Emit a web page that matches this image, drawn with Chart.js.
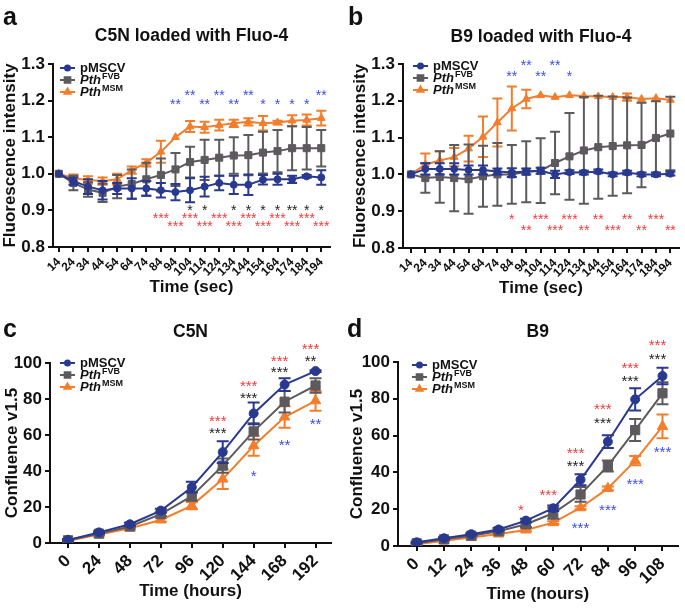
<!DOCTYPE html>
<html>
<head>
<meta charset="utf-8">
<script src="https://cdn.jsdelivr.net/npm/chart.js@4.4.1/dist/chart.umd.min.js"></script>
<style>
  html, body { margin: 0; padding: 0; background: #fff; }
  #fig { position: relative; width: 685px; height: 608px; overflow: hidden; }
  #fig canvas { position: absolute; }
</style>
</head>
<body>
<div id="fig">
  <canvas id="pa" width="342" height="305" style="left:0;top:0"></canvas>
  <canvas id="pb" width="343" height="305" style="left:342px;top:0"></canvas>
  <canvas id="pc" width="342" height="303" style="left:0;top:305px"></canvas>
  <canvas id="pd" width="343" height="303" style="left:342px;top:305px"></canvas>
</div>
<script>
// ---- data ----
var timeSec = [14, 24, 34, 44, 54, 64, 74, 84, 94, 104, 114, 124, 134, 144, 154, 164, 174, 184, 194];
var fluoTicks = [0.8, 0.9, 1.0, 1.1, 1.2, 1.3];

// a: C5N loaded with Fluo-4
var aMSCV    = [1.00, 0.98, 0.965, 0.955, 0.96, 0.96, 0.96, 0.955, 0.95, 0.955, 0.965, 0.975, 0.97, 0.97, 0.984, 0.985, 0.985, 0.993, 0.99];
var aMSCVErr = [0, 0.01, 0.02, 0.025, 0.015, 0.028, 0.02, 0.02, 0.022, 0.033, 0.027, 0.02, 0.025, 0.028, 0.013, 0.015, 0.01, 0.004, 0.02];
var aFVB     = [1.00, 0.975, 0.957, 0.948, 0.965, 0.972, 0.985, 0.997, 1.012, 1.032, 1.038, 1.044, 1.05, 1.051, 1.058, 1.062, 1.07, 1.07, 1.07];
var aFVBErr  = [0, 0.02, 0.02, 0.025, 0.032, 0.04, 0.045, 0.045, 0.045, 0.042, 0.055, 0.049, 0.05, 0.055, 0.057, 0.058, 0.06, 0.058, 0.05];
var aMSM     = [1.00, 0.988, 0.983, 0.98, 0.985, 1.01, 1.03, 1.06, 1.10, 1.129, 1.127, 1.133, 1.138, 1.142, 1.138, 1.14, 1.145, 1.147, 1.152];
var aMSMErr  = [0, 0.01, 0.01, 0.01, 0.015, 0.01, 0.01, 0.03, 0, 0.015, 0.015, 0.015, 0.01, 0.01, 0.02, 0.005, 0.015, 0.015, 0.02];

// b: B9 loaded with Fluo-4
var bMSCV    = [1.00, 1.015, 1.015, 1.015, 1.012, 1.012, 1.008, 1.005, 1.008, 1.01, 1.0, 1.006, 1.005, 1.008, 1.0, 1.005, 1.0, 1.0, 1.002];
var bMSCVErr = [0, 0.015, 0.015, 0.015, 0.012, 0.012, 0.008, 0.012, 0.008, 0.008, 0.01, 0.005, 0.005, 0.005, 0.005, 0.005, 0.005, 0.005, 0.005];
var bFVB     = [1.00, 0.99, 0.993, 0.99, 0.987, 0.995, 1.0, 1.0, 1.007, 1.01, 1.031, 1.049, 1.065, 1.074, 1.077, 1.079, 1.08, 1.099, 1.111];
var bFVBErr  = [0, 0.04, 0.07, 0.09, 0.094, 0.083, 0.085, 0.08, 0.083, 0.088, 0.085, 0.118, 0.145, 0.14, 0.135, 0.13, 0.115, 0.10, 0.10];
var bMSM     = [1.00, 1.027, 1.038, 1.047, 1.07, 1.102, 1.141, 1.179, 1.205, 1.215, 1.21, 1.215, 1.213, 1.212, 1.21, 1.21, 1.205, 1.207, 1.202];
var bMSMErr  = [0, 0.03, 0.025, 0.025, 0.035, 0.055, 0.065, 0.06, 0.025, 0, 0, 0, 0, 0, 0, 0.01, 0, 0, 0];

// c: C5N confluence
var hoursC   = [0, 24, 48, 72, 96, 120, 144, 168, 192];
var cMSCV    = [1.7, 5.9, 10.4, 18, 31, 50.5, 72, 88, 95.5];
var cMSCVErr = [0.5, 0.5, 0.8, 1, 3, 6, 6, 3.5, 0.5];
var cFVB     = [1.5, 5.2, 9.2, 16, 26, 43, 62, 78.5, 87.5];
var cFVBErr  = [0.3, 0.5, 0.7, 1, 2.5, 4, 4.5, 6, 4];
var cMSM     = [1.3, 4.7, 8.2, 12.8, 20.8, 35.5, 54, 70, 79];
var cMSMErr  = [0.3, 0.5, 0.8, 1, 2, 5.5, 5.5, 6, 5.5];

// d: B9 confluence
var hoursD   = [0, 12, 24, 36, 48, 60, 72, 84, 96, 108];
var dMSCV    = [2, 4.2, 6.4, 9, 13.8, 20.5, 36, 56.7, 79.7, 92.4];
var dMSCVErr = [0.5, 0.5, 0.5, 0.8, 1, 1.5, 3, 3.5, 6, 4.5];
var dFVB     = [1.5, 3.6, 5.6, 8, 11.8, 17.8, 28, 43.5, 63, 83];
var dFVBErr  = [0.3, 0.5, 0.5, 0.8, 1.5, 3, 4, 3, 6, 6];
var dMSM     = [1, 2.8, 4.6, 6.5, 8.7, 12.7, 20.8, 31.3, 46.4, 65];
var dMSMErr  = [0.2, 0.3, 0.4, 0.5, 0.7, 0.8, 0.8, 1, 2.5, 6.5];
var confTicks = [0, 20, 40, 60, 80, 100];

// significance marks: [x, y, text]
var aStarsBlue  = [[94, 1.199, '**'], [104, 1.224, '**'], [114, 1.199, '**'], [124, 1.224, '**'], [134, 1.199, '**'], [144, 1.224, '**'],
                   [154, 1.199, '*'], [164, 1.199, '*'], [174, 1.199, '*'], [184, 1.199, '*'], [194, 1.224, '**']];
var aStarsBlack = [[104, 0.909, '*'], [114, 0.909, '*'], [134, 0.909, '*'], [144, 0.909, '*'], [154, 0.909, '*'], [164, 0.909, '*'],
                   [174, 0.909, '**'], [184, 0.909, '*'], [194, 0.909, '*']];
var aStarsRed   = [[84, 0.888, '***'], [104, 0.888, '***'], [124, 0.888, '***'], [144, 0.888, '***'], [164, 0.888, '***'], [184, 0.888, '***'],
                   [94, 0.867, '***'], [114, 0.867, '***'], [134, 0.867, '***'], [154, 0.867, '***'], [174, 0.867, '***'], [194, 0.867, '***']];
var bStarsBlue  = [[84, 1.277, '**'], [94, 1.306, '**'], [104, 1.277, '**'], [114, 1.306, '**'], [124, 1.277, '*']];
var bStarsRed   = [[84, 0.886, '*'], [104, 0.886, '***'], [124, 0.886, '***'], [144, 0.886, '**'], [164, 0.886, '**'], [184, 0.886, '***'],
                   [94, 0.856, '**'], [114, 0.856, '***'], [134, 0.856, '**'], [154, 0.856, '***'], [174, 0.856, '**'], [194, 0.856, '**']];
var cStarsRed   = [[120, 70, '***'], [144, 89.4, '***'], [168, 103, '***'], [192, 110, '***']];
var cStarsBlack = [[120, 63, '***'], [144, 82.6, '***'], [168, 96.8, '***'], [192, 103, '**']];
var cStarsBlue  = [[144, 39, '*'], [168, 56.5, '**'], [192, 68, '**']];
var dStarsRed   = [[48, 21.7, '*'], [60, 29.5, '***'], [72, 52.7, '***'], [84, 76.6, '***'], [96, 98.9, '***'], [108, 111.4, '***']];
var dStarsBlack = [[72, 45.5, '***'], [84, 69, '***'], [96, 91.7, '***'], [108, 103.8, '***']];
var dStarsBlue  = [[72, 11.8, '***'], [84, 21.7, '***'], [96, 35.9, '***'], [108, 53, '***']];

var legendItems = [{ text: 'pMSCV' }, { text: 'Pth', sup: 'FVB' }, { text: 'Pth', sup: 'MSM' }];

// ---- styles ----
var FF = "'Liberation Sans', Arial, Helvetica, sans-serif";
var INK = '#111';
var BLUE = '#293990', GREY = '#5d5a5e', ORANGE = '#f47d2c';
var STAR_BLUE = '#3a4cf0', STAR_RED = '#f43a3a', STAR_BLACK = '#222';
var SERIES = [
  { color: BLUE, style: 'circle', r: [3.5, 4.5] },
  { color: GREY, style: 'rect', r: [5, 6.5] },
  { color: ORANGE, style: 'triangle', r: [4.5, 6] }
];

// error bars, panel letter, title, legend and star marks
var extras = {
  id: 'extras',
  beforeDatasetDraw: function (chart, args) {
    var ds = chart.data.datasets[args.index];
    if (!ds.errors) return;
    var xs = chart.scales.x, ys = chart.scales.y, ctx = chart.ctx;
    var cap = chart.options.plugins.extras.cap;
    ctx.save();
    ctx.strokeStyle = ds.borderColor;
    ctx.lineWidth = 2;
    ds.data.forEach(function (p, i) {
      var e = ds.errors[i];
      if (!e) return;
      var x = xs.getPixelForValue(p.x);
      var yt = ys.getPixelForValue(p.y + e), yb = ys.getPixelForValue(p.y - e);
      ctx.beginPath();
      ctx.moveTo(x, yt); ctx.lineTo(x, yb);
      ctx.moveTo(x - cap, yt); ctx.lineTo(x + cap, yt);
      ctx.moveTo(x - cap, yb); ctx.lineTo(x + cap, yb);
      ctx.stroke();
    });
    ctx.restore();
  },
  afterDraw: function (chart, args, o) {
    var ctx = chart.ctx, area = chart.chartArea;
    var xs = chart.scales.x, ys = chart.scales.y;
    ctx.save();
    ctx.fillStyle = INK;
    ctx.textBaseline = 'alphabetic';
    ctx.textAlign = 'left';
    ctx.font = 'bold 25px ' + FF;
    ctx.fillText(o.letter, o.letterX, o.letterY);
    ctx.textAlign = 'center';
    ctx.font = 'bold 17.5px ' + FF;
    ctx.fillText(o.title, (area.left + area.right) / 2, o.titleY);

    // legend
    legendItems.forEach(function (it, k) {
      var s = SERIES[k];
      var y = area.top + o.legY + k * 12;
      var lx = area.left + o.legX;
      ctx.strokeStyle = s.color; ctx.fillStyle = s.color; ctx.lineWidth = 2;
      ctx.beginPath(); ctx.moveTo(lx, y); ctx.lineTo(lx + 15, y); ctx.stroke();
      Chart.helpers.drawPoint(ctx, { pointStyle: s.style, radius: s.r[0] - 1, rotation: 0, borderWidth: 1 }, lx + 7.5, y);
      ctx.fillStyle = INK; ctx.textAlign = 'left'; ctx.textBaseline = 'middle';
      var tx = lx + 20;
      if (it.sup) {
        ctx.font = 'italic bold 13px ' + FF;
        ctx.fillText(it.text, tx, y);
        var w = ctx.measureText(it.text).width;
        ctx.font = 'bold 9px ' + FF;
        ctx.fillText(it.sup, tx + w + 1, y - 3);
      } else {
        ctx.font = 'bold 13px ' + FF;
        ctx.fillText(it.text, tx, y);
      }
    });

    // significance marks
    ctx.textAlign = 'center';
    ctx.textBaseline = 'alphabetic';
    ctx.font = o.starSize + 'px ' + FF;
    o.stars.forEach(function (g) {
      ctx.fillStyle = g.color;
      g.pts.forEach(function (s) {
        var x = xs.getPixelForValue(s[0]) + (g.dx || 0);
        var y = ys.getPixelForValue(s[1]) + o.starSize * 0.575;
        ctx.fillText(s[2], x, y);
      });
    });
    ctx.restore();
  }
};

function series(xv, yv, ev, k, big) {
  var s = SERIES[k];
  return {
    data: xv.map(function (x, i) { return { x: x, y: yv[i] }; }),
    errors: ev,
    borderColor: s.color, backgroundColor: s.color,
    pointStyle: s.style, pointRadius: s.r[big ? 1 : 0], pointBorderWidth: 1,
    borderWidth: 2, tension: 0
  };
}

function makePanel(id, p) {
  var tickFont = { family: FF, weight: 'bold', size: 17 };
  return new Chart(document.getElementById(id), {
    type: 'line',
    data: { datasets: p.data.map(function (d, k) { return series(p.x, d[0], d[1], k, p.big); }) },
    options: {
      responsive: false, animation: false, events: [],
      layout: { padding: p.pad },
      plugins: {
        legend: { display: false }, tooltip: { enabled: false },
        extras: {
          letter: p.letter, letterX: p.letterPos[0], letterY: p.letterPos[1],
          title: p.title, titleY: p.titleY, legX: p.leg[0], legY: p.leg[1],
          cap: p.big ? 6 : 5, starSize: p.big ? 15 : 14, stars: p.stars
        }
      },
      scales: {
        x: {
          type: 'linear', min: p.xMin, max: p.xMax,
          afterBuildTicks: function (s) { s.ticks = p.x.map(function (v) { return { value: v }; }); },
          afterFit: function (s) { s.height = p.xH; },
          ticks: { autoSkip: false, minRotation: 45, maxRotation: 45, padding: 3, color: INK,
                   font: { family: FF, weight: 'bold', size: p.xFont } },
          grid: { display: true, drawOnChartArea: false, drawTicks: true, tickLength: 5, color: INK, lineWidth: 2 },
          border: { display: true, color: INK, width: 2 },
          title: { display: true, text: p.xTitle, color: INK, font: { family: FF, weight: 'bold', size: 17 },
                   padding: { top: 0, bottom: p.xTitlePad } }
        },
        y: {
          type: 'linear', min: p.yTicks[0], max: p.yTicks[p.yTicks.length - 1],
          afterBuildTicks: function (s) { s.ticks = p.yTicks.map(function (v) { return { value: v }; }); },
          afterFit: function (s) { s.width = p.yW; },
          ticks: { padding: 3, color: INK, font: tickFont, callback: p.yFmt },
          grid: { display: true, drawOnChartArea: false, drawTicks: true, tickLength: 5, color: INK, lineWidth: 2 },
          border: { display: true, color: INK, width: 2 },
          title: { display: true, text: p.yTitle, color: INK, font: { family: FF, weight: 'bold', size: 17 },
                   padding: { top: p.yTitlePad, bottom: 0 } }
        }
      }
    },
    plugins: [extras]
  });
}

var fmt1 = function (v) { return Number(v).toFixed(1); };
var fmt0 = function (v) { return String(v); };

makePanel('pa', {
  x: timeSec, xMin: 10, xMax: 200, yTicks: fluoTicks, yFmt: fmt1, big: false,
  data: [[aMSCV, aMSCVErr], [aFVB, aFVBErr], [aMSM, aMSMErr]],
  pad: { top: 64, right: 12, left: 0, bottom: 0 }, yW: 53, xH: 58, xFont: 12,
  yTitle: 'Fluorescence intensity', yTitlePad: 0, xTitle: 'Time (sec)', xTitlePad: 7,
  letter: 'a', letterPos: [3, 25], title: 'C5N loaded with Fluo-4', titleY: 41, leg: [7, 4],
  stars: [{ pts: aStarsBlue, color: STAR_BLUE }, { pts: aStarsBlack, color: STAR_BLACK }, { pts: aStarsRed, color: STAR_RED }]
});

makePanel('pb', {
  x: timeSec, xMin: 8.5, xMax: 200, yTicks: fluoTicks, yFmt: fmt1, big: false,
  data: [[bMSCV, bMSCVErr], [bFVB, bFVBErr], [bMSM, bMSMErr]],
  pad: { top: 64, right: 3, left: 0, bottom: 0 }, yW: 61, xH: 57, xFont: 12,
  yTitle: 'Fluorescence intensity', yTitlePad: 8, xTitle: 'Time (sec)', xTitlePad: 6,
  letter: 'b', letterPos: [6, 25], title: 'B9 loaded with Fluo-4', titleY: 42, leg: [10, 2],
  stars: [{ pts: bStarsBlue, color: STAR_BLUE }, { pts: bStarsRed, color: STAR_RED }]
});

makePanel('pc', {
  x: hoursC, xMin: -14, xMax: 204, yTicks: confTicks, yFmt: fmt0, big: true,
  data: [[cMSCV, cMSCVErr], [cFVB, cFVBErr], [cMSM, cMSMErr]],
  pad: { top: 58, right: 11, left: 0, bottom: 0 }, yW: 50, xH: 65, xFont: 17,
  yTitle: 'Confluence v1.5', yTitlePad: 2, xTitle: 'Time (hours)', xTitlePad: 6,
  letter: 'c', letterPos: [3, 32], title: 'C5N', titleY: 32, leg: [10, 0],
  stars: [{ pts: cStarsRed, color: STAR_RED, dx: -5 }, { pts: cStarsBlack, color: STAR_BLACK, dx: -5 }, { pts: cStarsBlue, color: STAR_BLUE }]
});

makePanel('pd', {
  x: hoursD, xMin: -8.2, xMax: 114.6, yTicks: confTicks, yFmt: fmt0, big: true,
  data: [[dMSCV, dMSCVErr], [dFVB, dFVBErr], [dMSM, dMSMErr]],
  pad: { top: 57, right: 3, left: 0, bottom: 0 }, yW: 56, xH: 62, xFont: 17,
  yTitle: 'Confluence v1.5', yTitlePad: 5, xTitle: 'Time (hours)', xTitlePad: 3,
  letter: 'd', letterPos: [5, 32], title: 'B9', titleY: 32, leg: [14, 3],
  stars: [{ pts: dStarsRed, color: STAR_RED, dx: -5 }, { pts: dStarsBlack, color: STAR_BLACK, dx: -5 }, { pts: dStarsBlue, color: STAR_BLUE }]
});
</script>
</body>
</html>
